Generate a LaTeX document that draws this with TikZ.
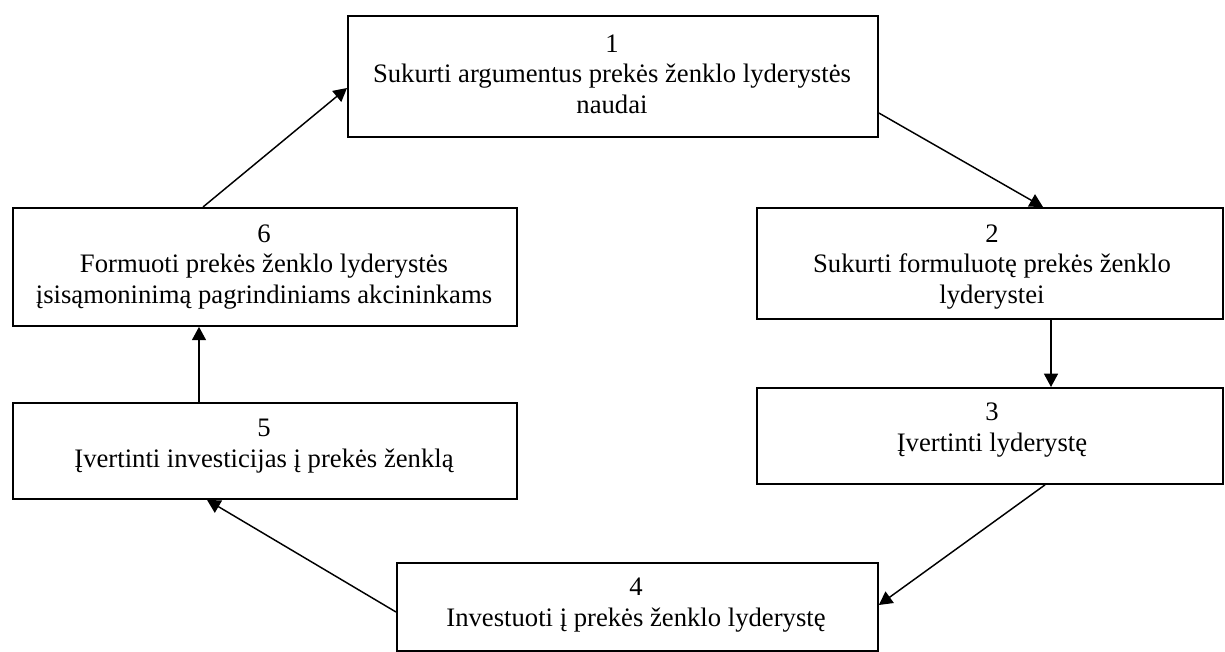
\documentclass[tikz,border=0pt]{standalone}
\usepackage{fontspec}
\setmainfont{Liberation Serif}
\usetikzlibrary{calc,arrows.meta}
\begin{document}
\begin{tikzpicture}[x=0.75pt,y=-0.75pt,
  box/.style={draw,line width=1.4pt,rectangle,inner sep=0pt,anchor=north west},
  txt/.style={align=center,inner sep=0pt,font=\fontsize{20pt}{23pt}\selectfont},
  arr/.style={line width=1.1pt,-{Triangle[length=10pt,width=10.5pt]}}]
\fill[white] (0,0) rectangle (1225,652);
\useasboundingbox (0,0) rectangle (1225,652);
\node[box,minimum width=530*0.75pt,minimum height=121*0.75pt] (b1) at (347,15) {};
\node[box,minimum width=504*0.75pt,minimum height=118*0.75pt] (b6) at (12,207) {};
\node[box,minimum width=466*0.75pt,minimum height=111*0.75pt] (b2) at (756,207) {};
\node[box,minimum width=504*0.75pt,minimum height=96*0.75pt] (b5) at (12,402) {};
\node[box,minimum width=466*0.75pt,minimum height=96*0.75pt] (b3) at (756,387) {};
\node[box,minimum width=481*0.75pt,minimum height=88*0.75pt] (b4) at (396,562) {};
\node[txt] (t1) at (612,74) {1\\Sukurti argumentus prekės ženklo lyderystės\\naudai};
\node[txt] (t6) at (264,267) {6\\Formuoti prekės ženklo lyderystės\\įsisąmoninimą pagrindiniams akcininkams};
\node[txt] (t2) at (992,267) {2\\Sukurti formuluotę prekės ženklo\\lyderystei};
\node[txt] (t5) at (264,446) {5\\Įvertinti investicijas į prekės ženklą};
\node[txt] (t3) at (992,430) {3\\Įvertinti lyderystę};
\node[txt] (t4) at (636,605) {4\\Investuoti į prekės ženklo lyderystę};
\draw[arr] ($(b6.north west)+(191,0)$) -- ($(b1.north west)+(0,73)$);
\draw[arr] ($(b1.north east)+(0,98)$) -- ($(b2.north west)+(287,0)$);
\draw[arr] ($(b2.south west)+(295,0)$) -- ($(b3.north west)+(295,0)$);
\draw[arr] ($(b3.south west)+(289,0)$) -- ($(b4.north east)+(0,43)$);
\draw[arr] ($(b4.north west)+(0,50)$) -- ($(b5.south west)+(195,0)$);
\draw[arr] ($(b5.north west)+(187,0)$) -- ($(b6.south west)+(187,0)$);
\end{tikzpicture}
\end{document}
